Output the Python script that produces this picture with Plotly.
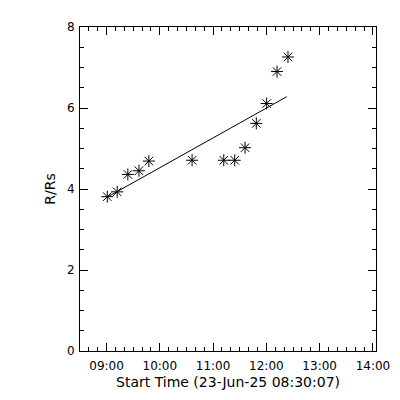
import plotly.graph_objects as go

# Data
times = ["2025-06-23 09:00:50", "2025-06-23 09:12:00", "2025-06-23 09:24:00",
         "2025-06-23 09:36:30", "2025-06-23 09:47:40", "2025-06-23 10:36:20",
         "2025-06-23 11:12:00", "2025-06-23 11:24:20", "2025-06-23 11:36:00",
         "2025-06-23 11:48:40", "2025-06-23 12:00:20", "2025-06-23 12:12:00",
         "2025-06-23 12:24:20"]
heights = [3.81, 3.93, 4.36, 4.45, 4.69, 4.71, 4.71, 4.71, 5.02, 5.62, 6.11, 6.90, 7.26]

fit_times = ["2025-06-23 09:00:50", "2025-06-23 12:23:00"]
fit_values = [3.80, 6.28]

x_range = ["2025-06-23 08:30:07", "2025-06-23 14:03:27"]
y_range = [0, 8]
x_title = "Start Time (23-Jun-25 08:30:07)"
y_title = "R/Rs"

font = dict(family="DejaVu Sans", size=12, color="black")

fig = go.Figure()
fig.add_trace(go.Scatter(x=fit_times, y=fit_values, mode="lines",
                         line=dict(color="black", width=1), showlegend=False))
fig.add_trace(go.Scatter(x=times, y=heights, mode="markers",
                         marker=dict(symbol="asterisk-open", size=10, color="black",
                                     line=dict(color="black", width=1)),
                         showlegend=False))

fig.update_layout(
    width=400, height=400,
    margin=dict(l=72, r=32, t=16, b=57),
    paper_bgcolor="white", plot_bgcolor="white",
    font=font,
    xaxis=dict(type="date", range=x_range, tickformat="%H:%M",
               dtick=3600000, tick0="2025-06-23 09:00:00",
               ticks="inside", ticklen=8, tickcolor="black", tickwidth=1,
               showline=True, linecolor="black", linewidth=1, mirror="ticks",
               showgrid=False, zeroline=False,
               minor=dict(dtick=600000, ticks="inside", ticklen=4, tickcolor="black", showgrid=False),
               title=dict(text=x_title, standoff=4),
               ticklabelstandoff=4),
    yaxis=dict(range=y_range, dtick=2,
               ticks="inside", ticklen=8, tickcolor="black", tickwidth=1,
               showline=True, linecolor="black", linewidth=1, mirror="ticks",
               showgrid=False, zeroline=False,
               minor=dict(dtick=0.5, ticks="inside", ticklen=4, tickcolor="black", showgrid=False),
               title=dict(text=y_title, standoff=8),
               ticklabelstandoff=2),
)

fig.write_html("out.html")
